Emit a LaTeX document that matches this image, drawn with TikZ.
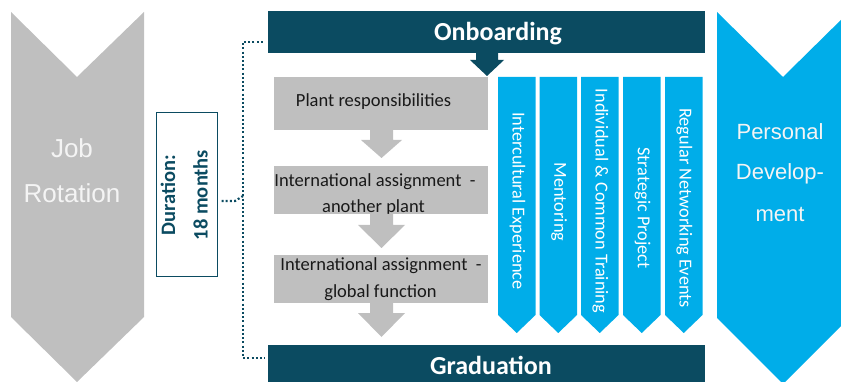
\documentclass[tikz,border=0pt]{standalone}
\usepackage{fontspec}
\setmainfont{Carlito}
\newfontfamily\thinfont{Liberation Sans}
\definecolor{darkteal}{HTML}{0B4B61}
\definecolor{skyb}{HTML}{00ADE9}
\definecolor{gry}{HTML}{BFBFBF}
\definecolor{paletxt}{HTML}{F4F4F4}
\tikzset{
  bar/.style={fill=darkteal, inner sep=0pt},
  bartext/.style={text=white, font=\bfseries\fontsize{26}{30}\selectfont, inner sep=0pt},
  graybox/.style={fill=gry, inner sep=0pt},
  boxtext/.style={text=black!90, font=\fontsize{18.5}{22}\selectfont, inner sep=0pt, anchor=base},
  coltext/.style={text=white, font=\fontsize{18.3}{22}\selectfont, inner sep=0pt, rotate=-90},
  bigtext/.style={text=paletxt, inner sep=0pt, anchor=base},
  durtext/.style={text=darkteal, font=\bfseries\fontsize{20.5}{24}\selectfont, inner sep=0pt, rotate=90},
  dotline/.style={draw=darkteal, line width=2.2pt, dash pattern=on 2pt off 2.2pt},
}
\begin{document}
\begin{tikzpicture}[x=1pt,y=-1pt]
\useasboundingbox (0,0) rectangle (841,382);
% left chevron
\fill[gry] (11,12) -- (77,77) -- (144,12) -- (144,317) -- (77,382) -- (11,317) -- cycle;
\node[bigtext, font=\thinfont\fontsize{26}{30}\selectfont] (job1) at (72,158) {Job};
\node[bigtext, font=\thinfont\fontsize{26}{30}\selectfont] (job2) at (72,203) {Rotation};
% right chevron
\fill[skyb] (717,12) -- (783,77) -- (849,12) -- (849,318) -- (783,384) -- (717,318) -- cycle;
\node[bigtext, font=\thinfont\fontsize{22}{26}\selectfont] (pd1) at (780,140) {Personal};
\node[bigtext, font=\thinfont\fontsize{22}{26}\selectfont] (pd2) at (780,180) {Develop-};
\node[bigtext, font=\thinfont\fontsize{22}{26}\selectfont] (pd3) at (780,222) {ment};
% duration box
\node[draw=darkteal, line width=1pt, minimum width=61pt, minimum height=164pt, inner sep=0pt] (dur) at (186.5,195) {};
\node[durtext] (dur1) at (168,195) {Duration:};
\node[durtext] (dur2) at (200.5,195) {18 months};
% bars
\node[bar, minimum width=437pt, minimum height=42pt] (onb) at (486.5,32) {};
\node[bartext] (onbt) at (498,34) {Onboarding};
\node[bar, minimum width=437pt, minimum height=37pt] (grad) at (486.5,363.5) {};
\node[bartext] (gradt) at (491,365) {Graduation};
% onboarding arrow
\fill[darkteal] (476,52) -- (476,60) -- (470,60) -- (487,76) -- (504,60) -- (498,60) -- (498,52) -- cycle;
% gray boxes
\node[graybox, minimum width=214pt, minimum height=53pt] (b1) at (381,103.5) {};
\node[graybox, minimum width=214pt, minimum height=48pt] (b2) at (381,190) {};
\node[graybox, minimum width=214pt, minimum height=48pt] (b3) at (381,279) {};
\node[boxtext] (t1) at (373.5,107) {Plant responsibilities};
\node[boxtext] (t2a) at (375,187) {International assignment\ \ -};
\node[boxtext] (t2b) at (373.5,213) {another plant};
\node[boxtext] (t3a) at (381,270) {International assignment\ \ -};
\node[boxtext] (t3b) at (380.5,298) {global function};
% gray arrows
\fill[gry] (370,130) -- (370,140) -- (361,140) -- (381.5,158) -- (402,140) -- (393,140) -- (393,130) -- cycle;
\fill[gry] (370,214) -- (370,225) -- (358,225) -- (381.5,248) -- (405,225) -- (393,225) -- (393,214) -- cycle;
\fill[gry] (370,303) -- (370,313) -- (358,313) -- (381.5,337) -- (405,313) -- (393,313) -- (393,303) -- cycle;
% blue columns
\foreach \xl/\lab/\yc [count=\i] in {498/Intercultural Experience/201, 539.5/Mentoring/202, 581/Individual \& Common Training/201, 623/Strategic Project/208, 665/Regular Networking Events/208}{
  \fill[skyb] (\xl,77) -- (\xl+37.5,77) -- (\xl+37.5,315) -- (\xl+18.75,333) -- (\xl,315) -- cycle;
  \node[coltext] (col\i) at (\xl+19.5,\yc) {\lab};
}
% dotted bracket
\coordinate (brtop) at (243,42);
\coordinate (brbot) at (243,358);
\coordinate (brmid) at (243,196);
\draw[dotline] (onb.west |- brtop) ++(-5,0) -- (brtop) -- (brbot) -- ([xshift=-3pt]grad.west |- brbot);
\draw[dotline] (dur.east |- 0,201) ++(4,0) -- (235,201) -- (brmid);
\end{tikzpicture}
\end{document}
